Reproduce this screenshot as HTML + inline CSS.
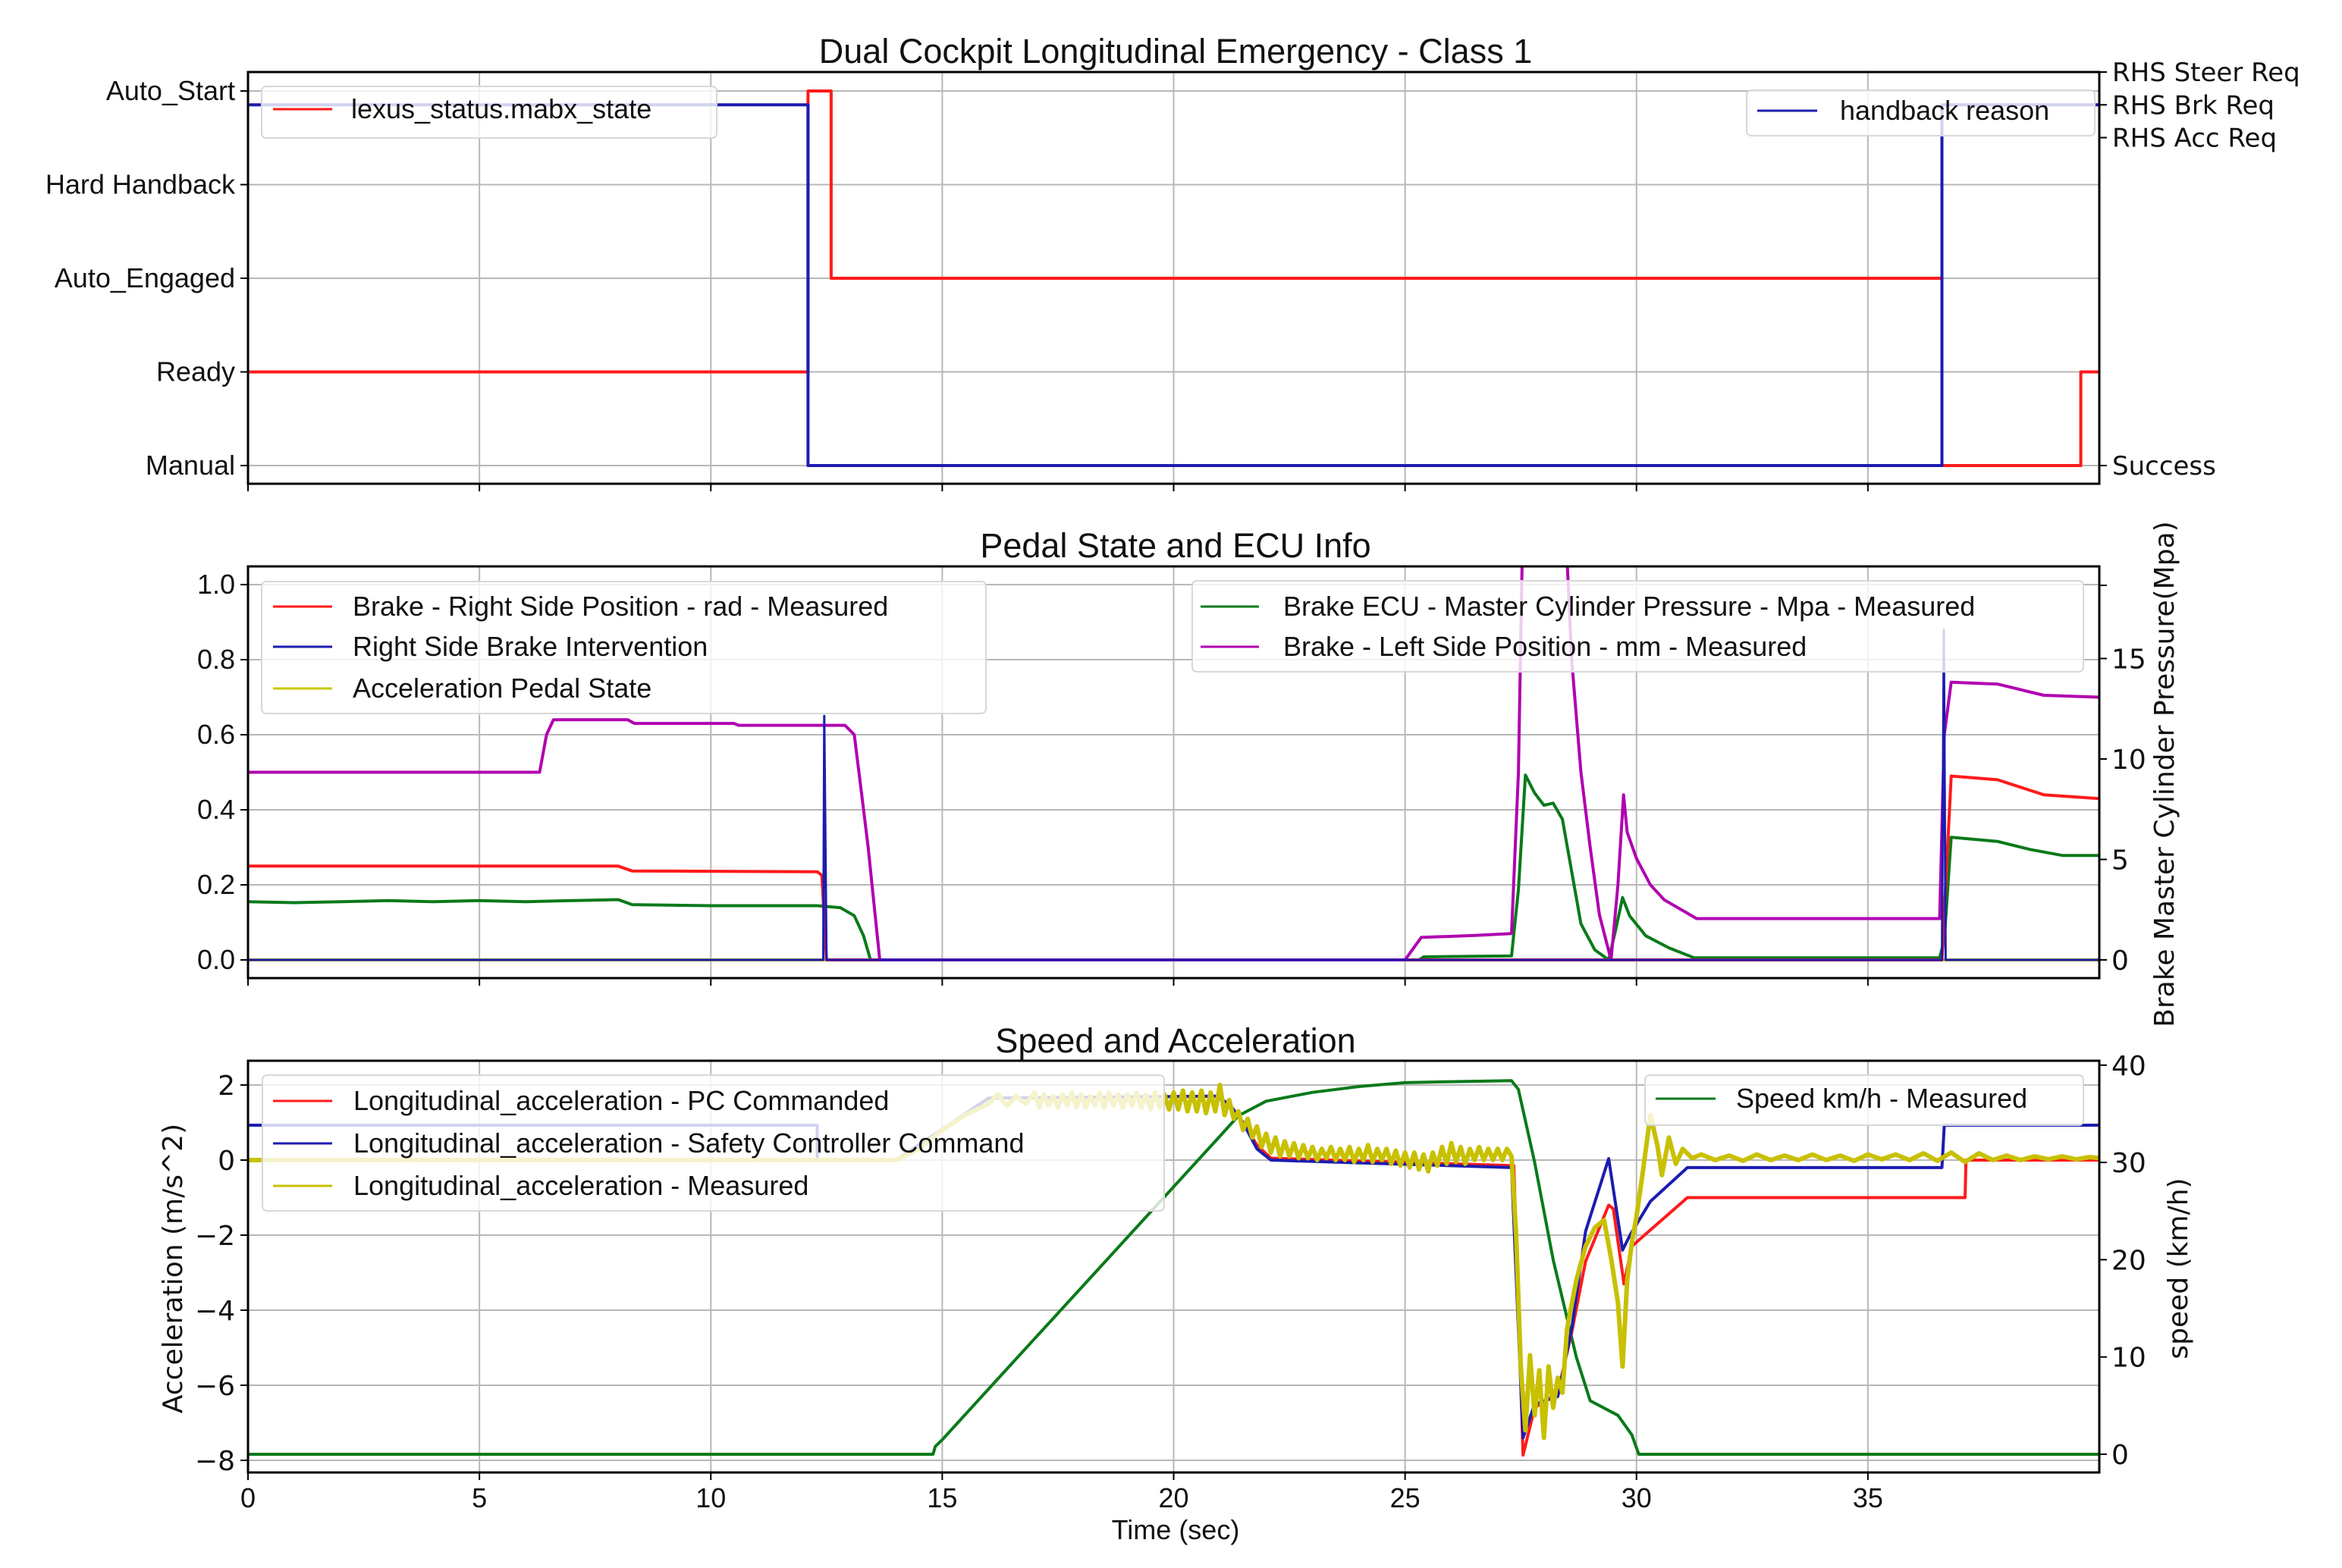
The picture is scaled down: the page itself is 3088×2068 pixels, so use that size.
<!DOCTYPE html>
<html><head><meta charset="utf-8">
<style>
html,body{margin:0;padding:0;background:#fff;}
svg{display:block;}
text{font-family:"Liberation Sans",sans-serif;fill:#111;}
.dv{font-family:"DejaVu Sans","Liberation Sans",sans-serif;}
</style></head>
<body>
<svg id="chart" width="3088" height="2068" viewBox="0 0 3088 2068" xmlns="http://www.w3.org/2000/svg">
<defs>
<clipPath id="c1"><rect x="327" y="95" width="2441" height="543"/></clipPath>
<clipPath id="c2"><rect x="327" y="747" width="2441" height="543"/></clipPath>
<clipPath id="c3"><rect x="327" y="1399" width="2441" height="543"/></clipPath>
</defs>
<g id="root"></g>
</svg>
<script>
// ---- Panel 1 data ----
const stateCats = ["Manual","Ready","Auto_Engaged","Hard Handback","Auto_Start"];
const reasonCats = ["Success","RHS Acc Req","RHS Brk Req","RHS Steer Req"];
const reasonCatVals = [0,10,11,12];
const stateT = [0,12.1,12.1,12.6,12.6,36.6,36.6,39.6,39.6,40];
const stateV = [1,1,4,4,2,2,0,0,1,1];
const reasonT = [0,12.1,12.1,36.6,36.6,40];
const reasonV = [11,11,0,0,11,11];
// ---- Panel 2 data ----
const pedalTicks = [0.0,0.2,0.4,0.6,0.8,1.0];
const pressTicks = [0,5,10,15];
const rsT = [0,8.0,8.3,12.3,12.4,12.5,36.6,36.8,37.8,38.3,38.8,40];
const rsV = [0.25,0.25,0.237,0.235,0.225,0,0,0.49,0.48,0.46,0.44,0.43];
const intT = [0,12.43,12.45,12.5,36.6,36.64,36.68,40];
const intV = [0,0,0.65,0,0,0.88,0,0];
const accPedT = [0,40];
const accPedV = [0,0];
const presT = [0,1,2,3,4,5,6,7,8.0,8.3,10,12.3,12.8,13.1,13.3,13.45,25.3,25.4,27.3,27.45,27.6,27.8,28.0,28.2,28.4,28.6,28.8,29.1,29.4,29.55,29.7,29.85,30.2,30.7,31.25,36.55,36.65,36.8,37.8,38.5,39.2,40];
const presV = [2.9,2.85,2.9,2.95,2.9,2.95,2.9,2.95,3.0,2.75,2.7,2.7,2.6,2.2,1.2,0,0,0.15,0.2,3.5,9.2,8.3,7.7,7.8,7.0,4.4,1.8,0.5,0,1.5,3.1,2.2,1.2,0.6,0.1,0.1,1.0,6.1,5.9,5.5,5.2,5.2];
const lsT = [0,6.3,6.45,6.6,8.2,8.35,10.5,10.6,12.9,13.1,13.25,13.4,13.65,25.0,25.35,26.5,27.3,27.45,27.55,28.45,28.6,28.8,29.0,29.2,29.45,29.6,29.72,29.8,30.0,30.3,30.6,31.3,36.55,36.65,36.8,37.8,38.3,38.8,40];
const lsV = [0.5,0.5,0.6,0.64,0.64,0.63,0.63,0.625,0.625,0.6,0.45,0.3,0,0,0.06,0.065,0.07,0.5,1.2,1.2,0.8,0.5,0.3,0.12,0,0.2,0.44,0.34,0.27,0.2,0.16,0.11,0.11,0.6,0.74,0.735,0.72,0.705,0.70];
// ---- Panel 3 data ----
const accTicks = [2,0,-2,-4,-6,-8];
const accTickLabels = ["2","0","\u22122","\u22124","\u22126","\u22128"];
const speedTicks = [0,10,20,30,40];
const timeTicks = [0,5,10,15,20,25,30,35];
const spT = [0,14.8,14.85,15,16,17,18,19,20,21,21.4,22,23,24,25,26,27.3,27.45,27.8,28.2,28.7,29.0,29.6,29.9,30.05,40];
const spV = [0,0,0.8,1.5,6.7,11.9,17.1,22.3,27.5,32.7,34.8,36.3,37.2,37.8,38.2,38.3,38.4,37.5,30,20,10,5.5,4,2,0,0];
const pcT = [0,14.0,16.0,20.9,21.2,21.5,21.8,22.1,27.35,27.55,27.8,28.3,28.6,28.9,29.4,29.5,29.73,29.9,30.2,31.1,37.1,37.12,40];
const pcV = [0,0,1.65,1.7,1.5,1.0,0.4,0.05,-0.15,-7.86,-6.6,-6.2,-4.6,-2.7,-1.2,-1.3,-3.3,-2.3,-1.97,-1.0,-1.0,0,0];
const scT = [0,12.3,12.3,14.0,16.0,20.9,21.2,21.5,21.8,22.1,27.3,27.55,27.8,28.3,28.6,28.9,29.4,29.7,29.86,30.3,31.1,36.6,36.65,40];
const scV = [0.93,0.93,0,0,1.65,1.7,1.5,1.0,0.3,0,-0.2,-7.4,-6.5,-6.3,-4.5,-1.9,0.04,-2.4,-2.0,-1.1,-0.2,-0.2,0.93,0.93];
const measPts = [[0,0],[14.0,0],[14.5,0.3],[15,0.8],[15.5,1.2],[16,1.5],[16.2,1.75],[16.4,1.45],[16.6,1.7],[16.8,1.5],[17,1.8],[17.1,1.4],[17.2,1.75],[17.3,1.45],[17.4,1.7],[17.5,1.4],[17.6,1.75],[17.7,1.45],[17.8,1.8],[17.9,1.4],[18,1.75],[18.1,1.4],[18.2,1.7],[18.3,1.45],[18.4,1.8],[18.5,1.4],[18.6,1.8],[18.7,1.45],[18.8,1.75],[18.9,1.4],[19,1.75],[19.1,1.45],[19.2,1.8],[19.3,1.4],[19.4,1.75],[19.5,1.35],[19.6,1.8],[19.7,1.4],[19.8,1.75],[19.9,1.35],[20,1.8],[20.1,1.35],[20.2,1.85],[20.3,1.3],[20.4,1.8],[20.5,1.3],[20.6,1.85],[20.7,1.25],[20.8,1.8],[20.9,1.3],[21,2.0],[21.1,1.2],[21.2,1.6],[21.3,1.1],[21.4,1.3],[21.5,0.8],[21.6,1.1],[21.7,0.6],[21.8,0.9],[21.9,0.35],[22.0,0.7],[22.1,0.2],[22.2,0.6],[22.3,0.1],[22.4,0.5],[22.5,0.1],[22.6,0.45],[22.7,0.05],[22.8,0.4],[22.9,0.05],[23.0,0.35],[23.1,0.0],[23.2,0.3],[23.3,0.05],[23.4,0.35],[23.5,0.0],[23.6,0.3],[23.7,0.0],[23.8,0.35],[23.9,-0.05],[24.0,0.3],[24.1,0.0],[24.2,0.4],[24.3,-0.05],[24.4,0.3],[24.5,0.0],[24.6,0.3],[24.7,-0.1],[24.8,0.25],[24.9,-0.15],[25.0,0.2],[25.1,-0.2],[25.2,0.2],[25.3,-0.25],[25.4,0.15],[25.5,-0.3],[25.6,0.2],[25.7,-0.15],[25.8,0.35],[25.9,-0.1],[26.0,0.45],[26.1,-0.05],[26.2,0.35],[26.3,-0.1],[26.4,0.3],[26.5,0.0],[26.6,0.35],[26.7,0.0],[26.8,0.3],[26.9,0.0],[27.0,0.3],[27.1,0.0],[27.2,0.3],[27.3,0.1],[27.4,-2],[27.5,-5.5],[27.6,-7.2],[27.7,-5.2],[27.8,-6.8],[27.9,-5.6],[28.0,-7.4],[28.1,-5.5],[28.2,-6.6],[28.3,-5.8],[28.4,-6.2],[28.5,-4.5],[28.7,-3.2],[28.9,-2.3],[29.1,-1.8],[29.3,-1.6],[29.45,-2.6],[29.6,-3.8],[29.7,-5.5],[29.8,-3.2],[29.9,-2.2],[30.0,-1.5],[30.15,-0.2],[30.3,1.2],[30.45,0.4],[30.55,-0.4],[30.7,0.6],[30.85,-0.1],[31.0,0.3],[31.2,0.05],[31.4,0.15],[31.7,0],[32,0.12],[32.3,-0.02],[32.6,0.15],[32.9,0],[33.2,0.12],[33.5,0],[33.8,0.15],[34.1,0],[34.4,0.12],[34.7,-0.02],[35,0.15],[35.3,0.02],[35.6,0.15],[35.9,0],[36.2,0.18],[36.5,-0.02],[36.8,0.2],[37.1,-0.05],[37.4,0.18],[37.7,0],[38,0.12],[38.3,0],[38.6,0.1],[38.9,0.02],[39.2,0.1],[39.5,0.02],[39.8,0.08],[40,0.05]];

// ---- axes ----
const X0=327, X1=2768, TMAX=40;
const xT = t => X0 + t*(X1-X0)/TMAX;
const yState = v => 614 - 123.5*v;
const yReason = v => 614 - 43.25*v;
const yPedal = v => 1266 - 495*v;
const yPress = p => 1266 - 26.5*p;
const yAcc = a => 1530 - 49.5*a;
const ySpeed = s => 1918 - 12.83*s;

const NS="http://www.w3.org/2000/svg";
const root=document.getElementById('root');
function mk(tag, attrs, parent){
  const e=document.createElementNS(NS,tag);
  for(const k in attrs) e.setAttribute(k,attrs[k]);
  (parent||root).appendChild(e); return e;
}
function txt(s, attrs, parent){ const e=mk('text',attrs,parent); e.textContent=s; return e; }
function poly(T,V,fy,color,w,clip,name){
  let d='';
  for(let i=0;i<T.length;i++) d+=(i?'L':'M')+xT(T[i]).toFixed(1)+','+fy(V[i]).toFixed(1);
  const p=mk('path',{d:d,fill:'none',stroke:color,'stroke-width':w,'stroke-linejoin':'round','clip-path':'url(#'+clip+')'});
  
  
  return p;
}
const panels=[{top:95,bot:638,clip:'c1'},{top:747,bot:1290,clip:'c2'},{top:1399,bot:1942,clip:'c3'}];
const GRID='#b8b8b8';
panels.forEach((P,pi)=>{
  timeTicks.forEach(t=>{
    const g=mk('line',{x1:xT(t),x2:xT(t),y1:P.top,y2:P.bot,stroke:GRID,'stroke-width':2});
    
    
    mk('line',{x1:xT(t),x2:xT(t),y1:P.bot,y2:P.bot+10,stroke:'#000','stroke-width':2});
  });
});
stateCats.forEach((c,i)=>{
  mk('line',{x1:X0,x2:X1,y1:yState(i),y2:yState(i),stroke:GRID,'stroke-width':2});
  mk('line',{x1:X0-10,x2:X0,y1:yState(i),y2:yState(i),stroke:'#000','stroke-width':2});
  const t=txt(c,{x:310,y:yState(i)+12,'text-anchor':'end','font-size':36});
  
  
});
reasonCats.forEach((c,i)=>{
  const y=yReason(reasonCatVals[i]);
  mk('line',{x1:X1,x2:X1+10,y1:y,y2:y,stroke:'#000','stroke-width':2});
  const t=txt(c,{x:2785,y:y+12,'font-size':34,class:'dv'});
  
  
});
pedalTicks.forEach(v=>{
  mk('line',{x1:X0,x2:X1,y1:yPedal(v),y2:yPedal(v),stroke:GRID,'stroke-width':2});
  mk('line',{x1:X0-10,x2:X0,y1:yPedal(v),y2:yPedal(v),stroke:'#000','stroke-width':2});
  const t=txt(v.toFixed(1),{x:310,y:yPedal(v)+12,'text-anchor':'end','font-size':36});
  
  
});
pressTicks.forEach(v=>{
  mk('line',{x1:X1,x2:X1+10,y1:yPress(v),y2:yPress(v),stroke:'#000','stroke-width':2});
  const t=txt(String(v),{x:2784,y:yPress(v)+13,'font-size':36,class:'dv'});
  
  
});
mk('line',{x1:X1,x2:X1+10,y1:772,y2:772,stroke:'#000','stroke-width':2});
accTicks.forEach((v,i)=>{
  mk('line',{x1:X0,x2:X1,y1:yAcc(v),y2:yAcc(v),stroke:GRID,'stroke-width':2});
  mk('line',{x1:X0-10,x2:X0,y1:yAcc(v),y2:yAcc(v),stroke:'#000','stroke-width':2});
  const t=txt(accTickLabels[i],{x:310,y:yAcc(v)+13,'text-anchor':'end','font-size':36,class:'dv'});
  
  
});
speedTicks.forEach(v=>{
  mk('line',{x1:X1,x2:X1+10,y1:ySpeed(v),y2:ySpeed(v),stroke:'#000','stroke-width':2});
  const t=txt(String(v),{x:2784,y:ySpeed(v)+13,'font-size':36,class:'dv'});
  
  
});
timeTicks.forEach(t0=>{
  const t=txt(String(t0),{x:xT(t0),y:1988,'text-anchor':'middle','font-size':36});
  
  
});

// ---- series ----
poly(stateT,stateV,yState,'#ff1a1a',4,'c1','mabx-state-line');
poly(reasonT,reasonV,yReason,'#1c1cb0',4,'c1','handback-reason-line');

poly(accPedT,accPedV,yPedal,'#c8c800',4,'c2','accel-pedal-line');
poly(presT,presV,yPress,'#0a7a1a',4,'c2','master-cylinder-pressure-line');
poly(rsT,rsV,yPedal,'#ff1a1a',4,'c2','right-brake-position-line');
poly(lsT,lsV,yPedal,'#b000b0',4,'c2','left-brake-position-line');
poly(intT,intV,yPedal,'#1c1cb0',3,'c2','right-brake-intervention-line');

poly(spT,spV,ySpeed,'#0a7a1a',4,'c3','speed-line');
poly(pcT,pcV,yAcc,'#ff1a1a',4,'c3','pc-commanded-accel-line');
poly(scT,scV,yAcc,'#1c1cb0',4,'c3','safety-controller-accel-line');
poly(measPts.map(p=>p[0]),measPts.map(p=>p[1]),yAcc,'#c8c000',6,'c3','measured-accel-line');

panels.forEach(P=>{
  const r=mk('rect',{x:X0,y:P.top,width:X1-X0,height:P.bot-P.top,fill:'none',stroke:'#000','stroke-width':3});
  
  
});

function legend(x,y,w,h,entries,tx,lx0,lx1,name){
  const g=mk('g',{});
  
  
  mk('rect',{x:x,y:y,width:w,height:h,rx:6,fill:'#fff','fill-opacity':0.8,stroke:'#d8d8d8','stroke-width':2},g);
  entries.forEach(e=>{
    mk('line',{x1:lx0,x2:lx1,y1:e[2],y2:e[2],stroke:e[1],'stroke-width':3},g);
    const t=txt(e[0],{x:tx,y:e[2]+12,'font-size':36},g);
    
    
  });
}
legend(345,114,600,68,[["lexus_status.mabx_state","#ff1a1a",144]],463,360,438,'legend-state');
legend(2303,119,459,60,[["handback reason","#1c1cb0",146]],2426,2317,2396,'legend-reason');
legend(345,767,955,174,[["Brake - Right Side Position - rad - Measured","#ff1a1a",800],["Right Side Brake Intervention","#1c1cb0",853],["Acceleration Pedal State","#c8c800",908]],465,360,438,'legend-pedal-left');
legend(1572,766,1175,120,[["Brake ECU - Master Cylinder Pressure - Mpa - Measured","#0a7a1a",800],["Brake - Left Side Position - mm - Measured","#b000b0",853]],1692,1583,1660,'legend-pedal-right');
legend(346,1418,1189,179,[["Longitudinal_acceleration - PC Commanded","#ff1a1a",1452],["Longitudinal_acceleration - Safety Controller Command","#1c1cb0",1508],["Longitudinal_acceleration - Measured","#c8c000",1564]],466,360,438,'legend-accel');
legend(2169,1418,578,66,[["Speed km/h - Measured","#0a7a1a",1449]],2289,2183,2262,'legend-speed');

[["Dual Cockpit Longitudinal Emergency - Class 1",83,'top-title'],["Pedal State and ECU Info",735,'middle-title'],["Speed and Acceleration",1388,'bottom-title']].forEach(a=>{
  const t=txt(a[0],{x:1550,y:a[1],'text-anchor':'middle','font-size':45});
  
  
});
const xl=txt("Time (sec)",{x:1550,y:2030,'text-anchor':'middle','font-size':36});


const yl=txt("Acceleration (m/s^2)",{x:0,y:0,'text-anchor':'middle','font-size':36,class:'dv',transform:'translate(240,1673) rotate(-90)'});


const sl=txt("speed (km/h)",{x:0,y:0,'text-anchor':'middle','font-size':36,class:'dv',transform:'translate(2884,1673) rotate(-90)'});


const pl=txt("Brake Master Cylinder Pressure(Mpa)",{x:0,y:0,'text-anchor':'middle','font-size':36,class:'dv',transform:'translate(2866,1021) rotate(-90)'});


</script>
</body></html>
